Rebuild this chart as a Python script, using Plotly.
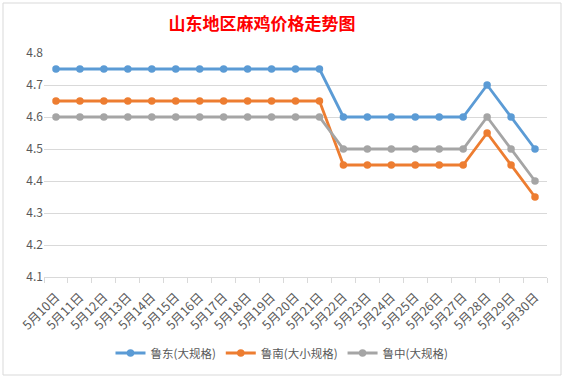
import plotly.graph_objects as go

dates = [f"5月{d}日" for d in range(10, 31)]
ludong = [4.75]*12 + [4.6]*6 + [4.7, 4.6, 4.5]
lunan = [4.65]*12 + [4.45]*6 + [4.55, 4.45, 4.35]
luzhong = [4.6]*12 + [4.5]*6 + [4.6, 4.5, 4.4]

series = [
    ("鲁东(大规格)", ludong, "#5B9BD5"),
    ("鲁南(大小规格)", lunan, "#ED7D31"),
    ("鲁中(大规格)", luzhong, "#A5A5A5"),
]

W, H = 564, 378
L, R, T, B = 44, 17, 53, 101
pw, ph = W - L - R, H - T - B

fig = go.Figure()
for name, vals, color in series:
    fig.add_trace(go.Scatter(
        x=dates, y=vals, name=name, mode="lines+markers",
        line=dict(color=color, width=2.8),
        marker=dict(color=color, size=7.5),
    ))

def px(x):
    return (x - L) / pw

def py(y):
    return (H - B - y) / ph

fig.update_layout(
    width=W, height=H,
    margin=dict(l=L, r=R, t=T, b=B, autoexpand=False),
    paper_bgcolor="white", plot_bgcolor="white",
    font=dict(family="Noto Sans CJK SC, sans-serif", color="#595959", size=11),
    title=dict(text="<b>山东地区麻鸡价格走势图</b>", x=262 / W, xref="container", xanchor="center",
               y=1 - 24 / H, yref="container", yanchor="middle",
               font=dict(color="#FF0000", size=17, family="Noto Sans CJK SC, sans-serif")),
    xaxis=dict(type="category", range=[-0.5, len(dates) - 0.5], showgrid=False, showline=True,
               linecolor="#D9D9D9", linewidth=1,
               ticks="outside", tickson="boundaries", ticklen=5, tickcolor="#D9D9D9",
               ticklabelstandoff=7,
               tickangle=-45, tickfont=dict(size=12.5, color="#595959"), automargin=False),
    yaxis=dict(range=[4.1, 4.8], dtick=0.1, tickformat=".1f", showgrid=True, gridcolor="#D9D9D9",
               gridwidth=1, zeroline=False, showline=False, ticks="", automargin=False,
               tickfont=dict(size=12, color="#595959")),
    legend=dict(orientation="h", x=0.5, xref="container", xanchor="center",
                y=(H - 353) / H, yref="container", yanchor="middle",
                font=dict(size=11.5, color="#595959"), itemwidth=30),
    showlegend=True,
    shapes=[dict(type="rect", xref="paper", yref="paper",
                 x0=px(3), x1=px(561), y0=py(375), y1=py(3),
                 line=dict(color="#D9D9D9", width=1), fillcolor="rgba(0,0,0,0)")],
)

fig.write_html("out.html", config={"displayModeBar": False},
               post_script="document.body.style.margin='0';document.body.style.overflow='hidden';")
